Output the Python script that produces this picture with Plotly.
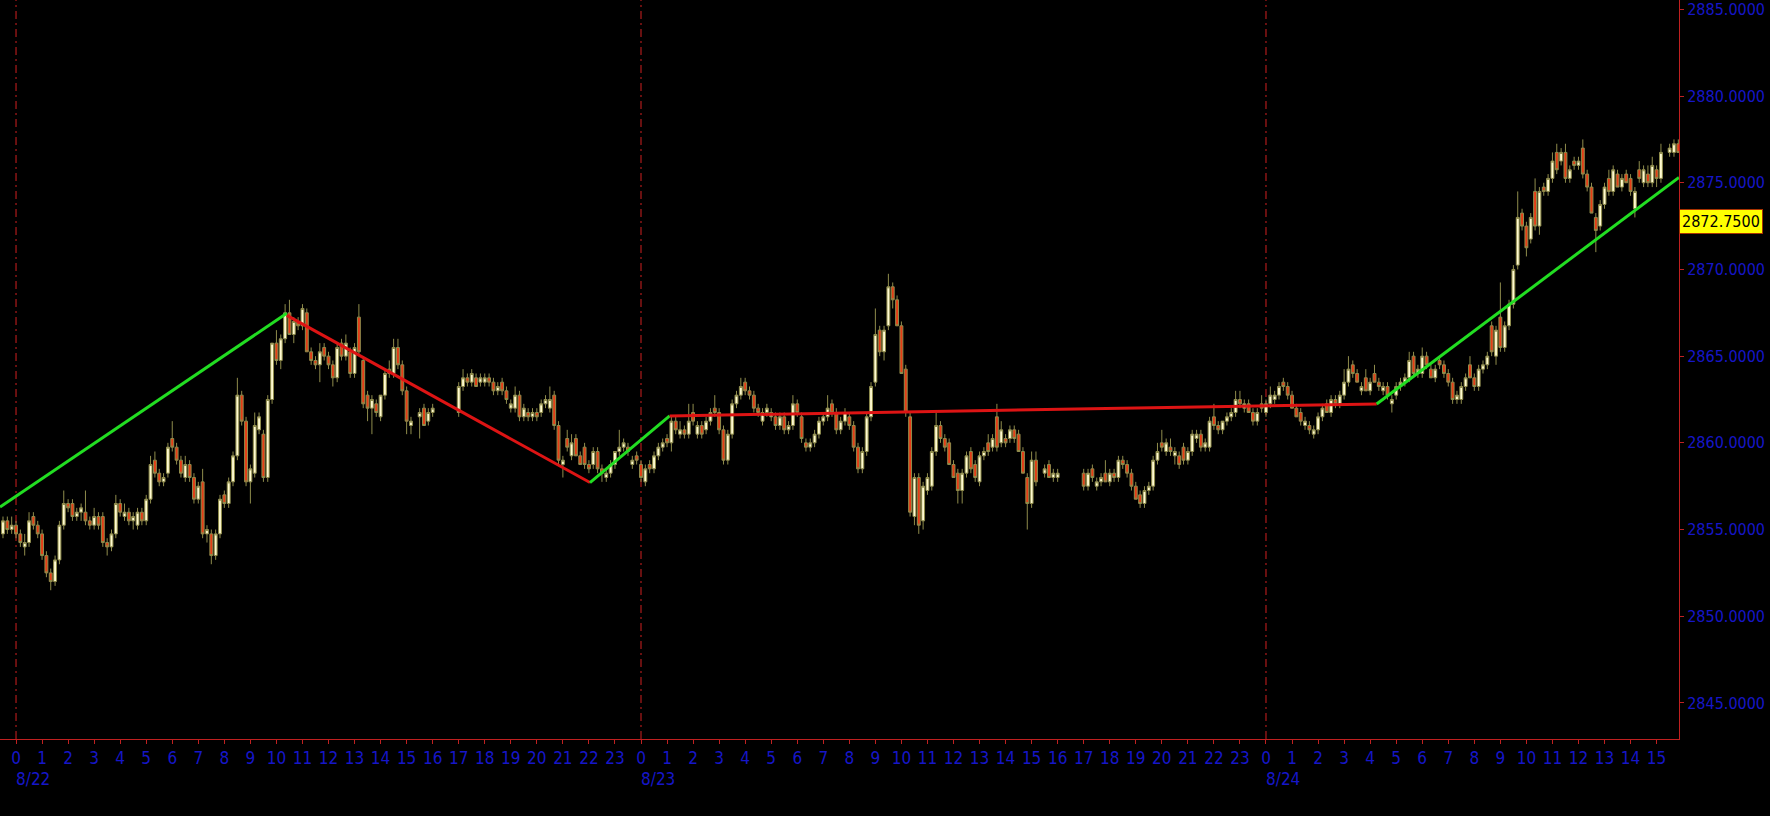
import plotly.graph_objects as go

# ---------------- data ----------------
# 10-minute OHLC bars; each row = one hour (6 bars), first row = 8/21 23:00,
# hour axis value 0 = 8/22 00:00.  None = no bar (trading halt).
FIRST_ROW_HOUR = -1

OPEN = [
    [None, None, None, 2854.75, 2855.50, 2855.00],
    [2855.25, 2854.75, 2854.00, 2854.25, 2855.75, 2855.25],
    [2854.75, 2853.50, 2852.50, 2852.00, 2853.25, 2855.25],
    [2856.50, 2856.50, 2855.75, 2856.00, 2856.00, 2855.50],
    [2855.25, 2855.75, 2855.75, 2854.25, 2854.00, 2854.75],
    [2856.50, 2855.75, 2856.00, 2855.50, 2855.25, 2856.00],
    [2855.50, 2856.75, 2859.00, 2858.25, 2857.75, 2858.25],
    [2860.25, 2859.75, 2859.00, 2858.00, 2858.75, 2858.00],
    [2856.75, 2857.75, 2854.75, 2854.75, 2853.50, 2854.75],
    [2857.00, 2856.50, 2857.75, 2859.25, 2862.75, 2861.25],
    [2857.75, 2858.25, 2860.75, 2860.50, 2858.00, 2862.50],
    [2865.75, 2864.75, 2866.00, 2867.50, 2866.25, 2867.00],
    [2866.75, 2867.50, 2865.25, 2864.75, 2864.50, 2865.50],
    [2865.00, 2864.50, 2863.75, 2865.75, 2865.00, 2865.25],
    [2864.00, 2867.25, 2864.75, 2862.75, 2862.00, 2862.25],
    [2861.50, 2862.75, 2864.25, 2864.00, 2865.50, 2864.50],
    [2863.00, 2861.00, None, 2861.50, 2862.00, 2861.25],
    [2861.75, None, None, None, None, None],
    [2861.75, 2863.25, 2863.75, 2863.50, 2863.75, 2863.50],
    [2863.50, 2863.75, 2863.50, 2863.00, 2863.50, 2863.00],
    [2862.00, 2862.00, 2862.75, 2861.50, 2861.75, 2861.50],
    [2861.75, 2861.75, 2862.25, 2862.00, 2862.75, 2861.00],
    [2858.75, 2860.25, 2859.25, 2860.25, 2859.25, 2859.75],
    [2858.75, 2858.75, 2859.50, 2858.50, 2858.00, 2858.25],
    [2858.75, 2859.50, 2859.75, 2859.75, 2858.75, 2859.25],
    [2858.75, 2857.75, 2858.75, 2858.50, 2859.25, 2859.75],
    [2860.25, 2860.00, 2861.25, 2860.50, 2860.75, 2860.50],
    [2861.75, 2860.50, 2861.00, 2860.75, 2861.25, 2862.00],
    [2861.75, 2860.75, 2859.00, 2860.50, 2862.25, 2862.75],
    [2863.50, 2863.00, 2862.75, 2862.00, 2861.25, 2861.75],
    [2861.50, 2861.50, 2861.00, 2861.50, 2860.75, 2861.00],
    [2862.25, 2861.50, 2860.00, 2859.75, 2860.00, 2860.50],
    [2861.25, 2861.50, 2862.25, 2861.75, 2860.75, 2861.25],
    [2861.50, 2861.00, 2859.75, 2858.50, 2859.50, 2861.50],
    [2863.50, 2866.50, 2865.25, 2866.75, 2869.00, 2868.25],
    [2866.75, 2864.25, 2861.50, 2855.75, 2858.00, 2855.50],
    [2857.25, 2857.50, 2859.50, 2861.00, 2860.25, 2860.00],
    [2858.75, 2858.25, 2857.25, 2858.25, 2859.50, 2858.75],
    [2857.75, 2859.25, 2860.00, 2859.75, 2861.50, 2860.00],
    [2860.25, 2860.25, 2860.75, 2860.50, 2859.50, 2858.00],
    [2856.50, 2859.00, None, 2858.25, 2858.75, 2858.00],
    [2858.00, None, None, None, None, None],
    [2858.25, 2857.50, 2858.50, 2857.50, 2857.75, 2858.25],
    [2857.75, 2858.25, 2858.00, 2859.00, 2858.75, 2858.25],
    [2857.50, 2857.00, 2856.50, 2857.25, 2857.50, 2859.00],
    [2860.00, 2859.50, 2859.75, 2859.25, 2859.25, 2859.75],
    [2859.00, 2859.50, 2860.25, 2860.50, 2859.75, 2859.75],
    [2861.50, 2861.00, 2860.75, 2861.25, 2861.50, 2861.75],
    [2862.50, 2862.00, 2862.25, 2861.75, 2861.25, 2862.25],
    [2861.75, 2862.25, 2862.50, 2862.75, 2863.50, 2863.25],
    [2862.75, 2862.00, 2861.75, 2861.00, 2861.00, 2860.50],
    [2860.75, 2861.50, 2862.25, 2861.75, 2862.50, 2862.25],
    [2862.75, 2863.50, 2864.50, 2864.00, 2863.00, 2863.75],
    [2863.00, 2864.00, 2863.50, 2863.00, 2863.25, 2862.25],
    [2862.75, 2863.25, 2863.50, 2863.75, 2865.00, 2864.00],
    [2864.00, 2865.00, 2864.25, 2863.75, 2864.75, 2864.50],
    [2864.00, 2863.50, 2862.50, 2862.50, 2863.25, 2864.50],
    [2863.75, 2863.25, 2864.25, 2864.50, 2866.75, 2865.00],
    [2867.25, 2865.50, 2866.75, 2868.00, 2870.25, 2873.25],
    [2872.50, 2871.75, 2874.50, 2872.50, 2874.75, 2874.50],
    [2875.25, 2876.75, 2876.25, 2876.75, 2875.25, 2876.25],
    [2876.00, 2877.00, 2875.50, 2874.75, 2873.00, 2872.50],
    [2873.75, 2875.25, 2874.50, 2875.50, 2874.75, 2875.50],
    [2875.25, 2873.50, 2875.75, 2875.00, 2875.50, 2875.00],
    [2875.75, 2875.25, None, 2876.75, 2876.75, 2877.25],
]

HIGH = [
    [None, None, None, 2855.75, 2855.75, 2855.75],
    [2855.50, 2855.00, 2854.75, 2856.00, 2856.00, 2855.50],
    [2855.00, 2853.75, 2852.75, 2853.50, 2855.50, 2857.25],
    [2856.75, 2856.75, 2856.25, 2856.50, 2857.25, 2855.75],
    [2856.25, 2856.00, 2856.00, 2854.50, 2855.00, 2857.00],
    [2856.75, 2856.50, 2856.25, 2856.00, 2856.25, 2856.25],
    [2857.00, 2859.25, 2859.50, 2858.50, 2858.25, 2860.00],
    [2861.25, 2860.00, 2859.25, 2859.25, 2859.00, 2858.25],
    [2857.75, 2858.50, 2855.25, 2855.00, 2855.00, 2857.00],
    [2857.25, 2858.00, 2859.50, 2863.75, 2863.00, 2861.50],
    [2858.75, 2861.75, 2861.75, 2860.75, 2862.75, 2865.75],
    [2866.50, 2866.25, 2868.00, 2868.25, 2867.25, 2867.25],
    [2868.00, 2867.75, 2865.50, 2865.00, 2865.75, 2865.75],
    [2865.25, 2864.75, 2865.75, 2866.00, 2866.25, 2865.50],
    [2865.75, 2868.00, 2865.00, 2863.00, 2862.75, 2862.50],
    [2862.75, 2864.25, 2864.75, 2866.00, 2866.00, 2864.75],
    [2863.25, 2861.50, None, 2862.00, 2862.25, 2862.00],
    [2862.25, None, None, None, None, None],
    [2863.50, 2864.25, 2864.00, 2864.25, 2864.00, 2864.00],
    [2864.00, 2864.00, 2863.75, 2863.50, 2863.75, 2863.25],
    [2862.50, 2863.25, 2863.00, 2862.25, 2862.00, 2862.00],
    [2862.00, 2862.50, 2862.75, 2863.25, 2863.00, 2861.25],
    [2859.25, 2860.75, 2860.50, 2860.50, 2859.50, 2860.00],
    [2859.00, 2859.75, 2859.75, 2858.75, 2858.50, 2859.00],
    [2859.50, 2860.75, 2860.25, 2860.00, 2859.25, 2859.50],
    [2859.00, 2858.75, 2859.00, 2859.50, 2860.00, 2860.25],
    [2860.50, 2861.50, 2861.50, 2861.25, 2861.00, 2862.25],
    [2862.25, 2861.25, 2861.25, 2861.50, 2862.00, 2862.75],
    [2862.00, 2861.00, 2860.75, 2862.50, 2863.00, 2863.75],
    [2863.75, 2863.25, 2863.00, 2862.25, 2862.00, 2862.25],
    [2862.00, 2861.75, 2861.75, 2861.75, 2861.25, 2862.75],
    [2862.50, 2861.75, 2860.25, 2860.25, 2860.75, 2861.50],
    [2861.75, 2862.75, 2862.50, 2862.00, 2861.50, 2862.00],
    [2861.75, 2861.25, 2860.00, 2859.75, 2861.75, 2863.50],
    [2867.75, 2866.75, 2866.75, 2869.75, 2869.25, 2868.50],
    [2867.00, 2864.50, 2861.75, 2858.25, 2858.25, 2857.75],
    [2858.25, 2859.75, 2861.75, 2861.25, 2860.50, 2860.25],
    [2859.00, 2858.50, 2858.50, 2859.50, 2859.75, 2859.00],
    [2859.50, 2859.75, 2860.50, 2860.50, 2862.25, 2861.25],
    [2860.50, 2861.00, 2861.00, 2860.75, 2859.75, 2858.25],
    [2859.50, 2859.50, None, 2858.75, 2859.00, 2858.50],
    [2858.50, None, None, None, None, None],
    [2858.50, 2858.50, 2858.75, 2858.00, 2858.25, 2859.00],
    [2858.50, 2858.50, 2859.25, 2859.25, 2859.00, 2858.50],
    [2857.75, 2857.25, 2857.50, 2857.75, 2859.25, 2860.00],
    [2860.75, 2860.25, 2860.25, 2859.75, 2859.50, 2860.00],
    [2859.75, 2860.75, 2860.75, 2860.75, 2860.25, 2861.50],
    [2862.25, 2861.25, 2861.25, 2861.75, 2862.00, 2863.00],
    [2863.00, 2862.50, 2862.50, 2862.00, 2862.00, 2862.75],
    [2862.50, 2863.25, 2863.00, 2863.50, 2863.75, 2863.50],
    [2863.00, 2862.25, 2862.00, 2861.50, 2861.25, 2861.00],
    [2861.75, 2862.25, 2862.50, 2862.75, 2862.75, 2863.00],
    [2864.25, 2865.00, 2864.75, 2864.25, 2863.50, 2864.25],
    [2863.75, 2864.50, 2863.75, 2863.50, 2863.50, 2862.75],
    [2863.50, 2863.75, 2864.00, 2865.25, 2865.25, 2864.50],
    [2865.50, 2865.25, 2864.50, 2864.50, 2865.00, 2864.75],
    [2864.25, 2863.75, 2863.00, 2863.50, 2864.00, 2865.00],
    [2864.00, 2864.50, 2864.75, 2865.25, 2867.00, 2866.75],
    [2869.25, 2867.00, 2868.25, 2870.25, 2874.50, 2873.50],
    [2872.75, 2873.25, 2875.25, 2874.75, 2875.00, 2875.50],
    [2876.75, 2877.25, 2877.00, 2877.25, 2876.00, 2876.50],
    [2876.50, 2877.50, 2875.75, 2875.00, 2873.25, 2874.00],
    [2875.00, 2875.75, 2876.00, 2875.75, 2875.50, 2875.75],
    [2875.50, 2874.75, 2876.25, 2876.00, 2876.00, 2876.50],
    [2876.00, 2877.25, None, 2877.25, 2877.50, 2877.50],
]

LOW = [
    [None, None, None, 2854.50, 2854.75, 2854.75],
    [2854.50, 2854.00, 2853.50, 2854.00, 2855.00, 2854.50],
    [2853.25, 2852.25, 2851.50, 2851.75, 2853.00, 2855.00],
    [2856.00, 2855.50, 2855.50, 2855.50, 2855.25, 2855.00],
    [2855.00, 2855.00, 2854.00, 2853.50, 2853.75, 2854.50],
    [2855.75, 2855.50, 2855.25, 2855.00, 2855.00, 2855.25],
    [2855.25, 2856.50, 2858.00, 2857.50, 2857.50, 2858.00],
    [2859.50, 2858.75, 2858.00, 2857.75, 2857.75, 2856.50],
    [2856.50, 2854.50, 2854.25, 2853.00, 2853.25, 2854.50],
    [2856.25, 2856.25, 2857.50, 2859.00, 2861.00, 2857.50],
    [2856.50, 2858.00, 2860.50, 2857.75, 2857.75, 2862.25],
    [2864.50, 2864.25, 2865.75, 2866.25, 2865.75, 2866.50],
    [2866.50, 2865.25, 2864.50, 2864.25, 2863.50, 2864.75],
    [2864.25, 2863.25, 2863.50, 2864.75, 2864.75, 2863.75],
    [2863.75, 2865.00, 2862.00, 2861.25, 2860.50, 2861.50],
    [2861.25, 2862.50, 2863.75, 2863.75, 2864.25, 2862.75],
    [2860.50, 2860.50, None, 2860.25, 2861.00, 2861.00],
    [2861.50, None, None, None, None, None],
    [2861.50, 2863.00, 2863.25, 2863.25, 2863.25, 2863.25],
    [2863.25, 2863.25, 2862.75, 2862.75, 2862.75, 2862.25],
    [2861.75, 2861.75, 2861.25, 2861.25, 2861.25, 2861.25],
    [2861.25, 2861.50, 2862.00, 2861.75, 2860.75, 2858.75],
    [2858.00, 2859.50, 2859.00, 2859.25, 2858.75, 2858.50],
    [2858.25, 2858.50, 2858.25, 2857.75, 2857.75, 2858.00],
    [2858.50, 2859.25, 2859.50, 2859.25, 2858.50, 2858.75],
    [2857.75, 2857.50, 2858.25, 2858.25, 2859.00, 2859.50],
    [2859.75, 2859.50, 2860.50, 2860.25, 2860.25, 2860.25],
    [2861.00, 2860.25, 2860.25, 2860.50, 2861.00, 2861.50],
    [2860.50, 2858.75, 2858.75, 2860.25, 2862.00, 2862.50],
    [2862.75, 2862.50, 2861.75, 2861.50, 2861.00, 2861.50],
    [2861.25, 2860.75, 2860.75, 2860.50, 2860.50, 2860.75],
    [2861.50, 2860.00, 2859.50, 2859.50, 2859.75, 2860.25],
    [2861.00, 2861.25, 2861.50, 2860.50, 2860.50, 2861.00],
    [2860.75, 2859.50, 2858.25, 2858.25, 2859.25, 2861.25],
    [2863.25, 2865.00, 2864.75, 2866.50, 2867.75, 2866.75],
    [2864.00, 2861.50, 2855.75, 2855.25, 2854.75, 2855.00],
    [2857.00, 2857.25, 2859.25, 2860.00, 2859.50, 2858.75],
    [2858.00, 2856.50, 2856.50, 2858.00, 2858.25, 2857.75],
    [2857.50, 2859.00, 2859.25, 2859.50, 2859.50, 2859.75],
    [2859.75, 2860.00, 2860.00, 2859.50, 2858.25, 2855.00],
    [2856.25, 2857.50, None, 2858.00, 2858.00, 2857.75],
    [2857.75, None, None, None, None, None],
    [2857.25, 2857.25, 2857.75, 2857.25, 2857.50, 2857.75],
    [2857.50, 2857.75, 2857.75, 2858.50, 2858.00, 2857.25],
    [2856.75, 2856.25, 2856.25, 2857.00, 2857.25, 2858.75],
    [2859.50, 2859.25, 2859.25, 2858.75, 2858.50, 2858.75],
    [2858.75, 2859.25, 2860.00, 2859.50, 2859.50, 2859.50],
    [2860.75, 2860.50, 2860.50, 2861.00, 2861.25, 2861.50],
    [2862.00, 2861.75, 2861.75, 2861.00, 2861.00, 2861.75],
    [2861.50, 2862.00, 2862.25, 2862.50, 2863.00, 2862.50],
    [2862.00, 2861.50, 2861.00, 2860.75, 2860.50, 2860.25],
    [2860.50, 2861.25, 2861.75, 2861.50, 2862.00, 2862.00],
    [2862.50, 2863.25, 2863.75, 2863.50, 2862.75, 2863.00],
    [2862.75, 2863.50, 2863.00, 2862.75, 2862.50, 2861.75],
    [2862.50, 2863.00, 2863.25, 2863.50, 2863.75, 2863.75],
    [2863.75, 2864.25, 2863.75, 2863.50, 2864.25, 2863.75],
    [2863.25, 2862.25, 2862.25, 2862.25, 2863.00, 2863.75],
    [2863.00, 2863.00, 2864.00, 2864.25, 2865.00, 2864.50],
    [2865.25, 2865.25, 2866.50, 2867.75, 2870.00, 2872.25],
    [2870.75, 2871.50, 2872.25, 2872.00, 2874.25, 2874.25],
    [2875.00, 2875.50, 2876.00, 2875.00, 2875.00, 2875.75],
    [2875.75, 2875.25, 2874.50, 2873.25, 2871.00, 2872.25],
    [2873.50, 2874.25, 2874.25, 2874.75, 2874.50, 2875.00],
    [2874.25, 2873.00, 2875.00, 2874.75, 2874.75, 2874.75],
    [2874.75, 2875.00, None, 2876.50, 2876.50, 2876.75],
]

CLOSE = [
    [None, None, None, 2855.50, 2855.00, 2855.25],
    [2854.75, 2854.25, 2854.25, 2855.50, 2855.25, 2854.75],
    [2853.50, 2852.50, 2852.00, 2853.25, 2855.25, 2856.50],
    [2856.25, 2855.75, 2856.00, 2856.25, 2855.50, 2855.25],
    [2855.75, 2855.25, 2854.25, 2854.00, 2854.75, 2856.50],
    [2856.00, 2856.00, 2855.50, 2855.75, 2856.00, 2855.50],
    [2856.75, 2858.75, 2858.25, 2857.75, 2858.00, 2859.75],
    [2859.75, 2859.00, 2858.25, 2858.75, 2858.00, 2856.75],
    [2857.50, 2854.75, 2855.00, 2853.50, 2854.75, 2856.75],
    [2856.50, 2857.75, 2859.25, 2862.75, 2861.25, 2857.75],
    [2858.50, 2861.00, 2861.50, 2858.00, 2862.50, 2865.75],
    [2864.75, 2866.00, 2867.50, 2866.25, 2867.00, 2866.75],
    [2867.75, 2865.25, 2864.75, 2864.50, 2865.25, 2865.00],
    [2864.50, 2863.75, 2865.50, 2865.00, 2865.75, 2864.00],
    [2865.50, 2865.25, 2862.25, 2862.00, 2862.50, 2861.75],
    [2862.75, 2864.00, 2864.00, 2865.50, 2864.50, 2863.00],
    [2861.25, 2861.25, None, 2861.75, 2861.00, 2861.75],
    [2862.00, None, None, None, None, None],
    [2863.25, 2863.75, 2863.50, 2864.00, 2863.25, 2863.75],
    [2863.75, 2863.50, 2863.00, 2863.25, 2863.00, 2862.50],
    [2862.25, 2862.75, 2861.50, 2862.00, 2861.50, 2861.75],
    [2861.50, 2862.25, 2862.50, 2862.50, 2861.00, 2859.00],
    [2859.00, 2859.75, 2860.00, 2859.25, 2858.75, 2858.75],
    [2858.50, 2859.50, 2858.50, 2858.25, 2858.25, 2858.75],
    [2859.50, 2859.75, 2860.00, 2859.50, 2859.00, 2859.00],
    [2858.00, 2858.50, 2858.50, 2859.25, 2859.75, 2860.00],
    [2860.00, 2861.25, 2860.75, 2860.75, 2860.50, 2861.25],
    [2861.25, 2861.00, 2860.50, 2861.25, 2861.75, 2861.75],
    [2860.75, 2859.00, 2860.50, 2862.25, 2862.75, 2863.25],
    [2863.00, 2862.75, 2862.00, 2861.75, 2861.75, 2862.00],
    [2861.75, 2861.00, 2861.50, 2860.75, 2861.00, 2862.25],
    [2861.75, 2860.25, 2859.75, 2860.00, 2860.50, 2861.25],
    [2861.50, 2862.00, 2861.75, 2860.75, 2861.25, 2861.75],
    [2861.00, 2859.75, 2858.50, 2859.50, 2861.50, 2863.25],
    [2866.25, 2865.25, 2866.50, 2869.00, 2868.25, 2866.75],
    [2864.00, 2861.75, 2856.00, 2858.00, 2855.25, 2857.50],
    [2858.00, 2859.50, 2861.00, 2860.25, 2859.75, 2858.75],
    [2858.00, 2857.25, 2858.25, 2859.25, 2858.50, 2858.00],
    [2859.25, 2859.50, 2859.50, 2860.25, 2859.75, 2860.75],
    [2860.00, 2860.75, 2860.25, 2859.50, 2858.25, 2856.50],
    [2859.00, 2857.75, None, 2858.50, 2858.00, 2858.25],
    [2858.25, None, None, None, None, None],
    [2857.50, 2858.25, 2858.00, 2857.75, 2858.00, 2857.75],
    [2858.25, 2858.00, 2859.00, 2858.75, 2858.25, 2857.50],
    [2856.75, 2856.50, 2857.25, 2857.50, 2859.00, 2859.50],
    [2859.75, 2860.00, 2859.50, 2859.50, 2858.75, 2859.00],
    [2859.50, 2860.50, 2860.50, 2859.75, 2860.00, 2861.25],
    [2861.00, 2860.75, 2861.25, 2861.50, 2861.75, 2862.50],
    [2862.25, 2862.25, 2861.75, 2861.25, 2861.75, 2862.00],
    [2862.25, 2862.75, 2862.75, 2863.25, 2863.25, 2862.75],
    [2862.00, 2861.50, 2861.25, 2861.25, 2860.75, 2860.75],
    [2861.50, 2862.00, 2861.75, 2862.50, 2862.25, 2862.75],
    [2863.50, 2864.25, 2864.00, 2863.50, 2863.25, 2863.00],
    [2863.50, 2863.50, 2863.25, 2863.25, 2862.75, 2862.50],
    [2863.25, 2863.50, 2863.75, 2864.75, 2864.00, 2864.25],
    [2865.00, 2864.50, 2863.75, 2864.25, 2864.50, 2864.00],
    [2863.50, 2862.50, 2862.75, 2863.25, 2863.75, 2863.75],
    [2863.25, 2864.25, 2864.50, 2865.00, 2865.25, 2866.50],
    [2865.50, 2866.75, 2868.00, 2870.00, 2873.00, 2872.50],
    [2871.25, 2873.00, 2872.50, 2874.50, 2874.50, 2875.25],
    [2876.25, 2875.75, 2876.75, 2875.25, 2875.75, 2876.00],
    [2876.25, 2875.50, 2874.75, 2873.25, 2872.25, 2873.75],
    [2874.75, 2874.50, 2875.75, 2874.75, 2875.25, 2875.00],
    [2874.50, 2874.50, 2875.25, 2875.75, 2875.00, 2876.00],
    [2875.25, 2876.75, None, 2877.00, 2877.25, 2876.75],
]

# trend lines: (start hour, end hour), (start value, end value)
TREND_X = [[-0.615, 10.40], [10.40, 22.04], [22.04, 25.10], [25.10, 52.25], [52.25, 63.86]]
TREND_Y = [[2856.30, 2867.47], [2867.35, 2857.71], [2857.71, 2861.55], [2861.55, 2862.24], [2862.24, 2875.31]]
TREND_KIND = ["up", "down", "up", "down", "up"]

DAY_STARTS = [0, 24, 48]
DAY_LABELS = ["8/22", "8/23", "8/24"]
HOUR_TICKS = list(range(0, 64))
HOUR_LABELS = [str(h % 24) for h in HOUR_TICKS]
PRICE_TICKS = [2845, 2850, 2855, 2860, 2865, 2870, 2875, 2880, 2885]
LAST_PRICE = 2872.75

# ---------------- styling ----------------
FONT = "DejaVu Sans Condensed, DejaVu Sans, sans-serif"
BLUE = "#1616c8"
AXIS_RED = "#c02020"
UP_FILL = "#fffad0"
DOWN_FILL = "#e63c16"
EDGE = "#8f8c4c"
TREND_COLORS = {"up": "#22dd22", "down": "#dd1414"}

# ---------------- build ----------------
xs, o, h, l, c = [], [], [], [], []
for r in range(len(OPEN)):
    for k in range(6):
        if OPEN[r][k] is None:
            continue
        xs.append(FIRST_ROW_HOUR + r + k / 6.0)
        o.append(OPEN[r][k]); h.append(HIGH[r][k]); l.append(LOW[r][k]); c.append(CLOSE[r][k])

fig = go.Figure()
fig.add_trace(go.Candlestick(
    x=xs, open=o, high=h, low=l, close=c,
    increasing=dict(fillcolor=UP_FILL, line=dict(color=EDGE, width=1)),
    decreasing=dict(fillcolor=DOWN_FILL, line=dict(color=EDGE, width=1)),
    whiskerwidth=0, hoverinfo="skip", showlegend=False,
))

for tx, ty, kind in zip(TREND_X, TREND_Y, TREND_KIND):
    fig.add_trace(go.Scatter(x=tx, y=ty, mode="lines",
                             line=dict(color=TREND_COLORS[kind], width=3),
                             hoverinfo="skip", showlegend=False))

shapes = []
for d in DAY_STARTS:
    shapes.append(dict(type="line", xref="x", yref="paper", x0=d, x1=d, y0=0, y1=1,
                       line=dict(color="#d02020", width=1, dash="8px,4px,2px,4px"),
                       layer="below"))

annotations = []
for d, lab in zip(DAY_STARTS, DAY_LABELS):
    annotations.append(dict(x=d, y=0, xref="x", yref="paper", text=lab, showarrow=False,
                            xanchor="left", yanchor="top", yshift=-28, xshift=-2,
                            font=dict(family=FONT, size=17, color=BLUE)))
annotations.append(dict(x=1, y=LAST_PRICE, xref="paper", yref="y",
                        text="2872.7500", showarrow=False,
                        xanchor="left", yanchor="middle", align="left",
                        bgcolor="#ffff00", bordercolor="#a83200", borderwidth=1, borderpad=2,
                        font=dict(family=FONT, size=16, color="#000000")))

fig.update_layout(
    width=1770, height=816,
    margin=dict(l=0, r=91, t=0, b=77, autoexpand=False),
    paper_bgcolor="#000000", plot_bgcolor="#000000",
    showlegend=False, hovermode=False,
    boxgap=0.05,
    shapes=shapes, annotations=annotations,
    xaxis=dict(range=[-0.615, 63.86], tickmode="array", tickvals=HOUR_TICKS, ticktext=HOUR_LABELS,
               ticks="outside", ticklen=4, tickcolor=AXIS_RED, showline=True, linecolor=AXIS_RED,
               linewidth=1, showgrid=False, zeroline=False, rangeslider=dict(visible=False),
               automargin=False,
               tickfont=dict(family=FONT, size=17, color=BLUE)),
    yaxis=dict(side="right", range=[2842.92, 2885.54], tickmode="array", tickvals=PRICE_TICKS,
               tickformat=".4f", ticks="outside", ticklen=4, tickcolor=AXIS_RED, showline=True,
               linecolor=AXIS_RED, linewidth=1, showgrid=False, zeroline=False,
               automargin=False, ticklabeloverflow="allow",
               tickfont=dict(family=FONT, size=16, color=BLUE)),
)

fig.write_html("out.html",
               config={"displayModeBar": False, "staticPlot": True},
               post_script="document.body.style.margin='0px';"
                           "document.body.style.background='#000000';")
